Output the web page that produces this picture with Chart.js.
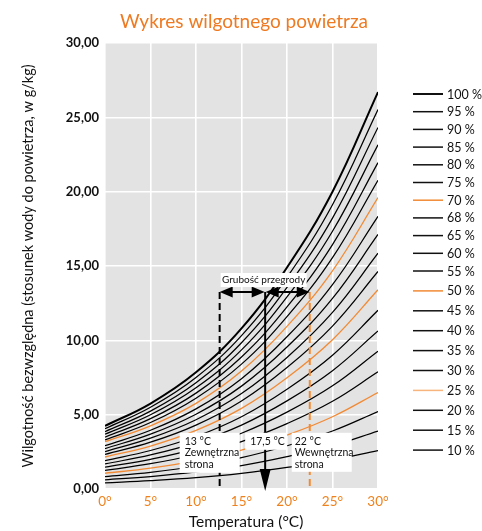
<!DOCTYPE html>
<html><head><meta charset="utf-8">
<script src="https://cdn.jsdelivr.net/npm/chart.js@4/dist/chart.umd.min.js"></script>
<style>html,body{margin:0;padding:0;background:#fff;}canvas{display:block}</style>
</head><body>
<canvas id="c" width="482" height="531"></canvas>
<script>
// Temperature (°C) categories
const temps = [0, 5, 10, 15, 20, 25, 30];
// Absolute humidity (g/kg) for each relative humidity curve
const rh100 = [4.24, 5.75, 7.85, 10.80, 14.90, 20.00, 26.70];
const rh95  = [4.05, 5.50, 7.50, 10.32, 14.24, 19.12, 25.53];
const rh90  = [3.86, 5.24, 7.15, 9.84, 13.57, 18.22, 24.32];
const rh85  = [3.68, 4.99, 6.81, 9.36, 12.92, 17.34, 23.15];
const rh80  = [3.49, 4.73, 6.45, 8.88, 12.25, 16.44, 21.95];
const rh75  = [3.30, 4.47, 6.11, 8.40, 11.59, 15.56, 20.77];
const rh70  = [3.18, 4.25, 5.76, 7.93, 10.94, 14.68, 19.60];
const rh68  = [2.91, 3.95, 5.39, 7.42, 10.24, 13.74, 18.34];
const rh65  = [2.72, 3.69, 5.03, 6.92, 9.55, 12.82, 17.12];
const rh60  = [2.52, 3.42, 4.66, 6.42, 8.85, 11.88, 15.86];
const rh55  = [2.32, 3.15, 4.30, 5.92, 8.17, 10.96, 14.63];
const rh50  = [2.15, 2.89, 3.94, 5.42, 7.48, 10.04, 13.40];
const rh45  = [1.91, 2.59, 3.53, 4.86, 6.71, 9.00, 12.02];
const rh40  = [1.69, 2.29, 3.12, 4.30, 5.93, 7.96, 10.63];
const rh35  = [1.47, 2.00, 2.72, 3.75, 5.17, 6.94, 9.27];
const rh30  = [1.25, 1.70, 2.32, 3.19, 4.40, 5.90, 7.88];
const rh25  = [1.06, 1.40, 1.91, 2.62, 3.62, 4.86, 6.49];
const rh20  = [0.83, 1.12, 1.53, 2.11, 2.91, 3.90, 5.21];
const rh15  = [0.62, 0.84, 1.15, 1.58, 2.18, 2.92, 3.90];
const rh10  = [0.41, 0.56, 0.76, 1.05, 1.45, 1.94, 2.59];

const seriesLabels = ['100 %','95 %','90 %','85 %','80 %','75 %','70 %','68 %','65 %','60 %','55 %','50 %','45 %','40 %','35 %','30 %','25 %','20 %','15 %','10 %'];
const seriesValues = [rh100,rh95,rh90,rh85,rh80,rh75,rh70,rh68,rh65,rh60,rh55,rh50,rh45,rh40,rh35,rh30,rh25,rh20,rh15,rh10];
const orangeSeries = ['70 %','50 %','25 %'];

// Annotation values
const markerTemps = [12.6, 17.6, 22.5];
const markerTexts = [['13 °C','Zewnętrzna','strona'], ['17,5 °C'], ['22 °C','Wewnętrzna','strona']];
const arrowLevel = 13.25;
const spanText = 'Grubość przegrody';

const yTicks = [0, 5, 10, 15, 20, 25, 30];

const ORANGE = '#f28a34';
const FONT = 'Lato, "Open Sans", sans-serif';

const datasets = seriesValues.map((vals, i) => {
  const lab = seriesLabels[i];
  const isOr = orangeSeries.includes(lab);
  return {
    label: lab,
    data: temps.map((t, j) => ({x: t, y: vals[j]})),
    borderColor: isOr ? ORANGE : '#000',
    legendColor: lab === '25 %' ? '#f7b47c' : (isOr ? ORANGE : '#111'),
    borderWidth: i === 0 ? 2 : (isOr ? 1.3 : 1.25),
    pointRadius: 0,
    fill: false,
    tension: 0.4
  };
});

const bgPlugin = {
  id: 'bg',
  beforeDraw(chart) {
    const {ctx, chartArea: a} = chart;
    ctx.save();
    ctx.fillStyle = '#e3e3e3';
    ctx.fillRect(a.left, a.top, a.right - a.left, a.bottom - a.top);
    ctx.restore();
  }
};

function arrowHead(ctx, x, y, dir) {
  ctx.beginPath();
  if (dir === 'l') { ctx.moveTo(x, y); ctx.lineTo(x + 13, y - 5.5); ctx.lineTo(x + 13, y + 5.5); }
  else if (dir === 'r') { ctx.moveTo(x, y); ctx.lineTo(x - 13, y - 5.5); ctx.lineTo(x - 13, y + 5.5); }
  else { ctx.moveTo(x, y); ctx.lineTo(x - 5.5, y - 22); ctx.lineTo(x + 5.5, y - 22); }
  ctx.closePath();
  ctx.fill();
}

const annoPlugin = {
  id: 'anno',
  afterDatasetsDraw(chart) {
    const {ctx, chartArea: a, scales: {x, y}} = chart;
    const xs = markerTemps.map(t => x.getPixelForValue(t));
    const ya = y.getPixelForValue(arrowLevel);
    ctx.save();
    ctx.lineWidth = 2;
    ctx.setLineDash([7, 4]);
    ctx.strokeStyle = '#000';
    ctx.beginPath(); ctx.moveTo(xs[0], ya); ctx.lineTo(xs[0], a.bottom); ctx.stroke();
    ctx.strokeStyle = ORANGE;
    ctx.beginPath(); ctx.moveTo(xs[2], ya); ctx.lineTo(xs[2], a.bottom); ctx.stroke();
    ctx.setLineDash([]);
    ctx.strokeStyle = '#000';
    ctx.beginPath(); ctx.moveTo(xs[1], ya); ctx.lineTo(xs[1], a.bottom - 18); ctx.stroke();
    ctx.fillStyle = '#000';
    arrowHead(ctx, xs[1], a.bottom + 2, 'd');
    ctx.beginPath(); ctx.moveTo(xs[0] + 6, ya); ctx.lineTo(xs[1] - 6, ya); ctx.stroke();
    ctx.beginPath(); ctx.moveTo(xs[1] + 6, ya); ctx.lineTo(xs[2] - 6, ya); ctx.stroke();
    arrowHead(ctx, xs[0], ya, 'l');
    arrowHead(ctx, xs[1] - 0.5, ya, 'r');
    arrowHead(ctx, xs[1] + 0.5, ya, 'l');
    arrowHead(ctx, xs[2], ya, 'r');
    ctx.fillStyle = '#fff';
    ctx.fillRect(xs[0] + 1, ya - 19, 86, 14);
    ctx.fillStyle = '#111';
    ctx.font = '10px ' + FONT;
    ctx.textAlign = 'center';
    ctx.textBaseline = 'middle';
    ctx.fillText(spanText, xs[0] + 44, ya - 12);
    const boxes = [
      {l: xs[0] - 40, w: 60, h: 40, tx: xs[0] - 35},
      {l: xs[1] - 20, w: 42, h: 17, tx: xs[1] - 15},
      {l: xs[2] - 18, w: 60, h: 39, tx: xs[2] - 15}
    ];
    const top = y.getPixelForValue(3.78);
    boxes.forEach((b, i) => {
      ctx.fillStyle = '#fff';
      ctx.fillRect(b.l, top, b.w, b.h);
      ctx.fillStyle = '#111';
      ctx.textAlign = 'left';
      ctx.font = '10.5px ' + FONT;
      markerTexts[i].forEach((t, k) => ctx.fillText(t, b.tx, top + 8.5 + k * 11.7));
    });
    ctx.restore();
  },
  afterDraw(chart) {
    const {ctx} = chart;
    ctx.save();
    ctx.fillStyle = '#ee7a22';
    ctx.font = '19px ' + FONT;
    ctx.textAlign = 'center';
    ctx.textBaseline = 'middle';
    ctx.fillText('Wykres wilgotnego powietrza', 244, 22);
    ctx.fillStyle = '#111';
    ctx.font = '15.5px ' + FONT;
    ctx.fillText('Temperatura (°C)', 246, 522);
    ctx.save();
    ctx.translate(28, 266);
    ctx.rotate(-Math.PI / 2);
    ctx.font = '14.5px ' + FONT;
    ctx.fillText('Wilgotność bezwzględna (stosunek wody do powietrza, w g/kg)', 0, 0);
    ctx.restore();
    chart.data.datasets.forEach((ds, i) => {
      const ly = i <= 10 ? 94 + i * 17.7 : 271 + (i - 10) * 19.9;
      ctx.strokeStyle = ds.legendColor;
      ctx.lineWidth = i === 0 ? 2 : 1.5;
      ctx.beginPath(); ctx.moveTo(413, ly); ctx.lineTo(443, ly); ctx.stroke();
      ctx.fillStyle = '#111';
      ctx.font = '12.5px ' + FONT;
      ctx.textAlign = 'left';
      ctx.fillText(ds.label, 447, ly + 0.5);
    });
    ctx.restore();
  }
};

new Chart(document.getElementById('c'), {
  type: 'line',
  data: {datasets},
  options: {
    responsive: false,
    animation: false,
    layout: {padding: {left: 0, right: 104, top: 43, bottom: 0}},
    plugins: {legend: {display: false}, title: {display: false}, tooltip: {enabled: false}},
    elements: {point: {radius: 0}},
    scales: {
      x: {
        type: 'linear', min: 0, max: 30,
        ticks: {stepSize: 5, callback: v => v + '°', color: '#f0821e', font: {family: FONT, size: 13.5}, padding: 5, maxRotation: 0},
        grid: {color: '#ffffff', lineWidth: 1.6, drawTicks: false},
        border: {display: false},
        afterFit: s => { s.height = 42; }
      },
      y: {
        type: 'linear', min: 0, max: 30,
        afterBuildTicks: s => { s.ticks = yTicks.map(v => ({value: v})); },
        ticks: {callback: v => v.toFixed(2).replace('.', ','), color: '#111', font: {family: FONT, size: 13, weight: 'bold'}, padding: 6},
        grid: {color: '#ffffff', lineWidth: 1.6, drawTicks: false},
        border: {display: false},
        afterFit: s => { s.width = 105; }
      }
    }
  },
  plugins: [bgPlugin, annoPlugin]
});
</script>
</body></html>
